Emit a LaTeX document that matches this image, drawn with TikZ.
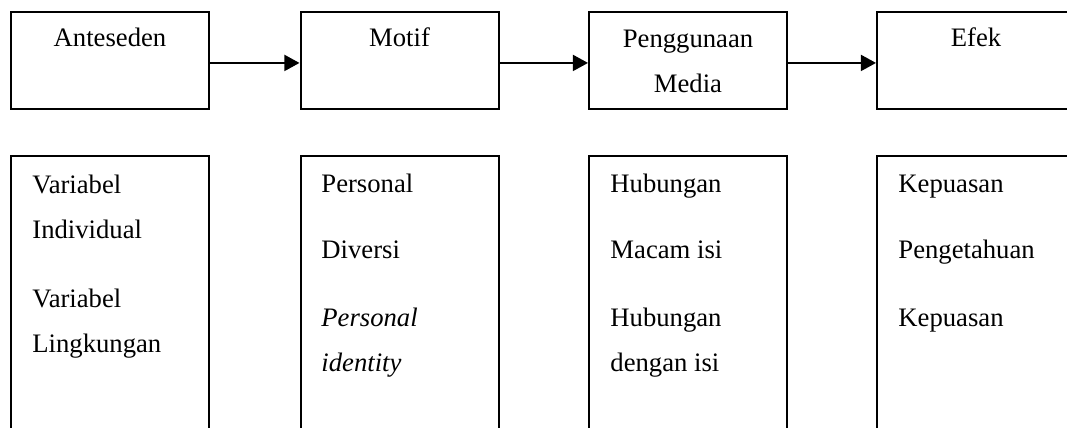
\documentclass[tikz,border=0pt]{standalone}
\usepackage{fontspec}
\setmainfont{Liberation Serif}
\usetikzlibrary{arrows.meta}

\tikzset{
  kotak/.style={draw, line width=0.9pt, minimum width=89.1pt, minimum height=43.65pt, inner sep=0pt},
  kolom/.style={draw, line width=0.9pt, minimum width=89.1pt, minimum height=132.3pt, inner sep=0pt},
  judul/.style={inner sep=0pt, anchor=base, align=center, font=\fontsize{12}{20.25}\selectfont},
  isi/.style={inner sep=0pt, anchor=base west, align=left, font=\fontsize{12}{20.25}\selectfont},
  panah/.style={-{Triangle[length=6.8pt,width=7.2pt]}, line width=0.9pt}
}

\begin{document}
\begin{tikzpicture}[x=0.45pt, y=-0.45pt]
        \useasboundingbox (0,0) rectangle (1067,427);
        \clip (0,0) rectangle (1067,427);
        % kotak atas
        \node[kotak] (ante) at (110,60.5) {};
        \node[kotak] (motif) at (399.5,60.5) {};
        \node[kotak] (media) at (688,60.5) {};
        \node[kotak] (efek) at (976,60.5) {};
        % base = baris terakhir
        \node[judul] (anteT) at (110,47) {Anteseden};
        \node[judul] (motifT) at (399.5,47) {Motif};
        \node[judul] (mediaT) at (688,92) {Penggunaan\\Media};
        \node[judul] (efekT) at (976,47) {Efek};
        \draw[panah] ([yshift=-1.1pt]ante.east) -- ([yshift=-1.1pt]motif.west);
        \draw[panah] ([yshift=-1.1pt]motif.east) -- ([yshift=-1.1pt]media.west);
        \draw[panah] ([yshift=-1.1pt]media.east) -- ([yshift=-1.1pt]efek.west);
        % kolom bawah
        \node[kolom] (anteK) at (110,303) {};
        \node[kolom] (motifK) at (399.5,303) {};
        \node[kolom] (mediaK) at (688,303) {};
        \node[kolom] (efekK) at (976,303) {};
        \node[isi] (a1) at (32,238) {Variabel\\Individual};
        \node[isi] (a2) at (32,352) {Variabel\\Lingkungan};
        \node[isi] (m1) at (321,192) {Personal};
        \node[isi] (m2) at (321,258) {Diversi};
        \node[isi] (m3) at (321,371) {\textit{Personal}\\\textit{identity}};
        \node[isi] (p1) at (610,192) {Hubungan};
        \node[isi] (p2) at (610,258) {Macam isi};
        \node[isi] (p3) at (610,371) {Hubungan\\dengan isi};
        \node[isi] (e1) at (898,192) {Kepuasan};
        \node[isi] (e2) at (898,258) {Pengetahuan};
        \node[isi] (e3) at (898,326) {Kepuasan};
    \end{tikzpicture}
\end{document}
